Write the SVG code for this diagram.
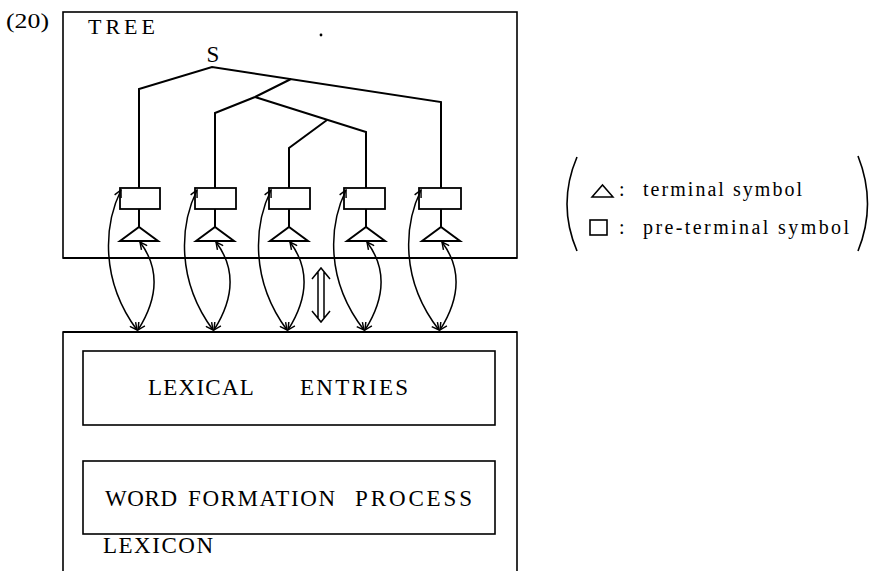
<svg xmlns="http://www.w3.org/2000/svg" width="885" height="571" viewBox="0 0 885 571">
  <style>
    .frame { fill: none; stroke: #000; stroke-width: 1.6; }
    .box { fill: #fff; stroke: #000; stroke-width: 1.8; }
    .branch { fill: none; stroke: #000; stroke-width: 2; stroke-linejoin: miter; }
    .link { fill: none; stroke: #000; stroke-width: 1.5; marker-start: url(#tip); marker-end: url(#tip); }
    .lbl { font-family: "Liberation Serif", "DejaVu Serif", serif; fill: #000; }
  </style>
  <defs>
    <marker id="tip" viewBox="0 0 10 10" refX="9" refY="5" markerWidth="9" markerHeight="9" markerUnits="userSpaceOnUse" orient="auto-start-reverse">
      <path d="M1,1 L9,5 L1,9" fill="none" stroke="#000" stroke-width="1.6"/>
    </marker>
  </defs>
  <rect width="885" height="571" fill="#fff"/>

  <text class="lbl" x="6" y="28" font-size="22" textLength="43" lengthAdjust="spacingAndGlyphs">(20)</text>

  <!-- tree area -->
  <g id="tree">
    <rect class="frame" x="63" y="12" width="454" height="246"/>
    <line x1="63" y1="258" x2="517" y2="258" stroke="#000" stroke-width="2"/>
    <text class="lbl" x="88" y="34" font-size="22" textLength="67">TREE</text>
    <circle cx="321" cy="35" r="1.4" fill="#000"/>
    <text class="lbl" x="213" y="62" font-size="23" text-anchor="middle">S</text>
  </g>

  <!-- pre-terminal boxes with their terminal triangles -->
  <g id="leaf1">
    <rect class="box" x="120" y="188" width="40" height="21"/>
    <path class="branch" d="M139,209 V227 M120,241 L139,227 L158,241 Z"/>
  </g>
  <g id="leaf2">
    <rect class="box" x="195" y="188" width="41" height="21"/>
    <path class="branch" d="M215,209 V227 M196,241 L215,227 L234,241 Z"/>
  </g>
  <g id="leaf3">
    <rect class="box" x="269" y="188" width="41" height="21"/>
    <path class="branch" d="M289,209 V227 M270,241 L289,227 L308,241 Z"/>
  </g>
  <g id="leaf4">
    <rect class="box" x="344" y="188" width="41" height="21"/>
    <path class="branch" d="M366,209 V227 M347,241 L366,227 L385,241 Z"/>
  </g>
  <g id="leaf5">
    <rect class="box" x="419" y="188" width="42" height="21"/>
    <path class="branch" d="M441,209 V227 M422,241 L441,227 L460,241 Z"/>
  </g>

  <!-- lexicon -->
  <g id="lexicon">
    <path class="frame" d="M63,571 V332 H517 V571"/>
    <line x1="63" y1="332" x2="517" y2="332" stroke="#000" stroke-width="2"/>
    <text class="lbl" x="103" y="553" font-size="23" textLength="110">LEXICON</text>
  </g>
  <g id="lexical-entries">
    <rect class="frame" x="83" y="351" width="412" height="74"/>
    <text class="lbl" y="395" font-size="23"><tspan x="148" textLength="105">LEXICAL</tspan> <tspan x="300" textLength="108">ENTRIES</tspan></text>
  </g>
  <g id="word-formation">
    <rect class="frame" x="83" y="461" width="412" height="73"/>
    <text class="lbl" y="506" font-size="23"><tspan x="105" textLength="72">WORD</tspan> <tspan x="188" textLength="147">FORMATION</tspan> <tspan x="355" textLength="117">PROCESS</tspan></text>
  </g>

  <!-- key -->
  <g id="legend">
    <path class="frame" d="M577,157 Q557,204 577,251"/>
    <path class="frame" d="M858,156 Q877,204 858,251"/>
    <polygon points="592,197 602.5,185 613,197" fill="none" stroke="#000" stroke-width="1.5"/>
    <text class="lbl" x="619" y="196" font-size="20">:</text>
    <text class="lbl" x="643" y="196" font-size="20" textLength="159">terminal symbol</text>
    <rect x="590" y="220" width="17" height="15" fill="none" stroke="#000" stroke-width="1.6"/>
    <text class="lbl" x="619" y="234" font-size="20">:</text>
    <text class="lbl" x="643" y="234" font-size="20" textLength="206">pre-terminal symbol</text>
  </g>

  <!-- connectors -->
  <g id="connectors">
    <!-- tree branches -->
    <path class="branch" d="M139,188 V89 L212,67 L441,102 V188"/>
    <path class="branch" d="M291,79 L255,97 L215,113 V188"/>
    <path class="branch" d="M255,97 L366,132 V188"/>
    <path class="branch" d="M327,120 L289,148 V188"/>
    <!-- box to lexicon links -->
    <path class="link" d="M121,190 C104,225 100,280 137,330"/>
    <path class="link" d="M197,190 C180,225 176,280 213,330"/>
    <path class="link" d="M271,190 C254,225 250,280 287,330"/>
    <path class="link" d="M346,190 C329,225 325,280 364,330"/>
    <path class="link" d="M421,190 C404,225 400,280 439,330"/>
    <!-- triangle to lexicon links -->
    <path class="link" d="M140,242 C161,270 157,300 138,330"/>
    <path class="link" d="M216,242 C237,270 233,300 214,330"/>
    <path class="link" d="M290,242 C311,270 307,300 288,330"/>
    <path class="link" d="M367,242 C388,270 384,300 365,330"/>
    <path class="link" d="M442,242 C463,270 459,300 440,330"/>
    <!-- correspondence arrow between tree and lexicon -->
    <path d="M312,279 L321,268 L330,279 M312,311 L321,322 L330,311 M318,272 V318 M324,272 V318" fill="none" stroke="#000" stroke-width="1.5"/>
  </g>
</svg>
